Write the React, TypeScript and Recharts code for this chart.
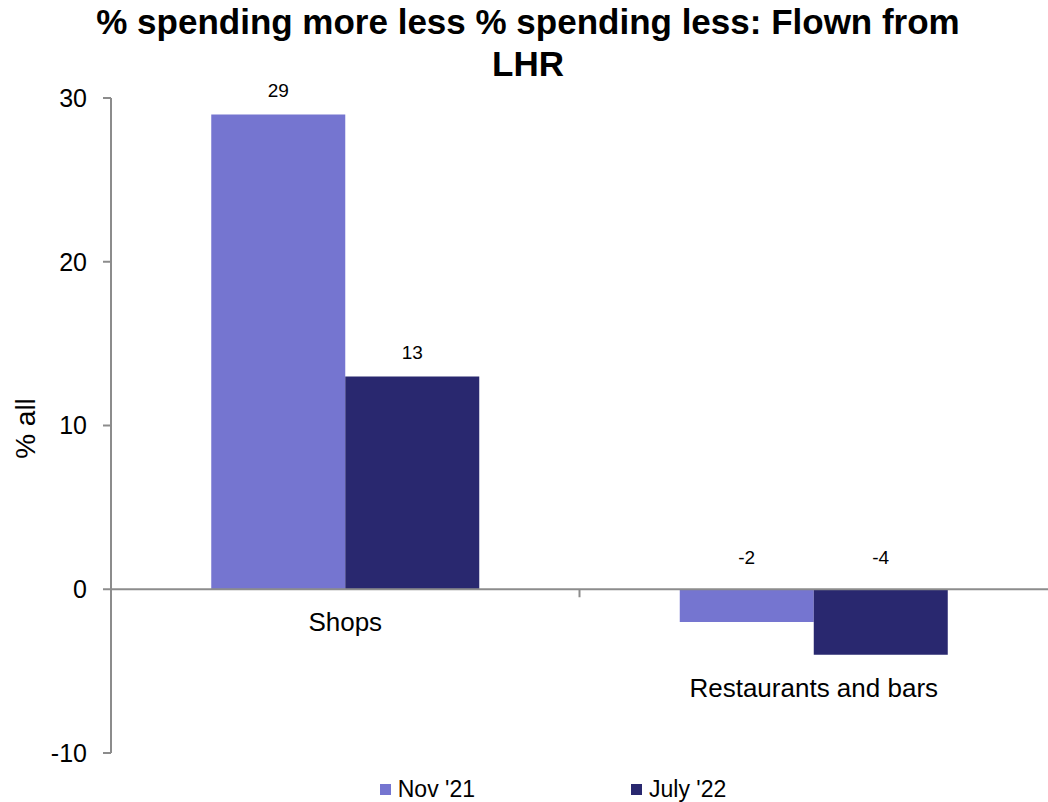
import { BarChart, Bar, XAxis, YAxis, ReferenceLine, Legend, LabelList, Label } from "recharts";

const categories = ["Shops", "Restaurants and bars"];
const nov21 = [29, -2];
const july22 = [13, -4];
const seriesNames = ["Nov '21", "July '22"];
const yTicks = [-10, 0, 10, 20, 30];

const colors = ["#7575D0", "#29286F"];
const axisGrey = "#8C8C8C";
const font = '"Liberation Sans", Arial, sans-serif';

const data = categories.map((category, i) => ({
  category,
  nov: nov21[i],
  july: july22[i],
}));

// value labels sit above the bar top, or above the zero line for negatives
const ValueLabel = (props: any) => {
  const { x, y, width, height, value } = props;
  const top = Math.min(y, y + height);
  const cy = value < 0 ? top - 32 : top - 24;
  return (
    <text x={x + width / 2} y={cy} textAnchor="middle" dominantBaseline="central" fontSize={19} fill="#000" fontFamily={font}>
      {value}
    </text>
  );
};

// category name goes under the lowest bar of its group (x of 2nd bar = group centre)
const CategoryLabel = (props: any) => {
  const { x, y, height, value } = props;
  const bottom = Math.max(y, y + height);
  return (
    <text x={x} y={bottom + 33} textAnchor="middle" dominantBaseline="central" fontSize={26} fill="#000" fontFamily={font}>
      {value}
    </text>
  );
};

const ZeroAxis = (props: any) => {
  const { x1, y1, x2, y2 } = props;
  const step = (x2 - x1) / categories.length;
  return (
    <g>
      <line x1={x1} y1={y1} x2={x2} y2={y2} stroke={axisGrey} strokeWidth={2} />
      {categories.slice(1).map((_, i) => (
        <line key={i} x1={x1 + step * (i + 1)} y1={y1} x2={x1 + step * (i + 1)} y2={y1 + 8} stroke={axisGrey} strokeWidth={2} />
      ))}
    </g>
  );
};

const LegendContent = () => (
  <div style={{ display: "flex", justifyContent: "center", alignItems: "center", height: 30, paddingLeft: 58, gap: 156, fontFamily: font, fontSize: 23, color: "#000" }}>
    {seriesNames.map((name, i) => (
      <div key={name} style={{ display: "flex", alignItems: "center" }}>
        <span style={{ width: 11, height: 11, background: colors[i], marginRight: 7, display: "inline-block" }} />
        <span>{name}</span>
      </div>
    ))}
  </div>
);

export default function App() {
  return (
    <div style={{ position: "absolute", left: 0, top: 0, width: 1048, height: 802, background: "#fff", fontFamily: font }}>
      <div style={{ position: "absolute", left: 8, top: 1, width: 1040, textAlign: "center", fontSize: 35, fontWeight: "bold", lineHeight: "42px", zIndex: 2 }}>
        % spending more less % spending less: Flown from
        <br />
        LHR
      </div>
      <BarChart
        width={1048}
        height={802}
        data={data}
        margin={{ top: 98, right: 0, left: 0, bottom: 19 }}
        barCategoryGap="21.4%"
        barGap={0}
      >
        <XAxis dataKey="category" hide />
        <YAxis
          domain={[-10, 30]}
          ticks={yTicks}
          width={111}
          axisLine={{ stroke: axisGrey, strokeWidth: 2 }}
          tickLine={{ stroke: axisGrey, strokeWidth: 2 }}
          tickSize={8}
          tickMargin={16}
          tick={{ fontSize: 25, fill: "#000", fontFamily: font }}
        >
          <Label
            content={(p: any) => {
              const vb = p.viewBox || {};
              const cx = (vb.x ?? 0) + 25;
              const cy = (vb.y ?? 98) + (vb.height ?? 655) / 2 + 3;
              return (
                <text x={cx} y={cy} transform={`rotate(-90 ${cx} ${cy})`} textAnchor="middle" dominantBaseline="central" fontSize={28} fill="#000" fontFamily={font}>
                  % all
                </text>
              );
            }}
          />
        </YAxis>
        <Bar dataKey="nov" name={seriesNames[0]} fill={colors[0]} isAnimationActive={false}>
          <LabelList dataKey="nov" content={ValueLabel} />
        </Bar>
        <Bar dataKey="july" name={seriesNames[1]} fill={colors[1]} isAnimationActive={false}>
          <LabelList dataKey="july" content={ValueLabel} />
          <LabelList dataKey="category" content={CategoryLabel} />
        </Bar>
        <ReferenceLine y={0} shape={ZeroAxis} />
        <Legend
          verticalAlign="bottom"
          height={30}
          content={LegendContent}
          wrapperStyle={{ left: 0, width: 1048, top: 774, bottom: "auto" }}
        />
      </BarChart>
    </div>
  );
}
